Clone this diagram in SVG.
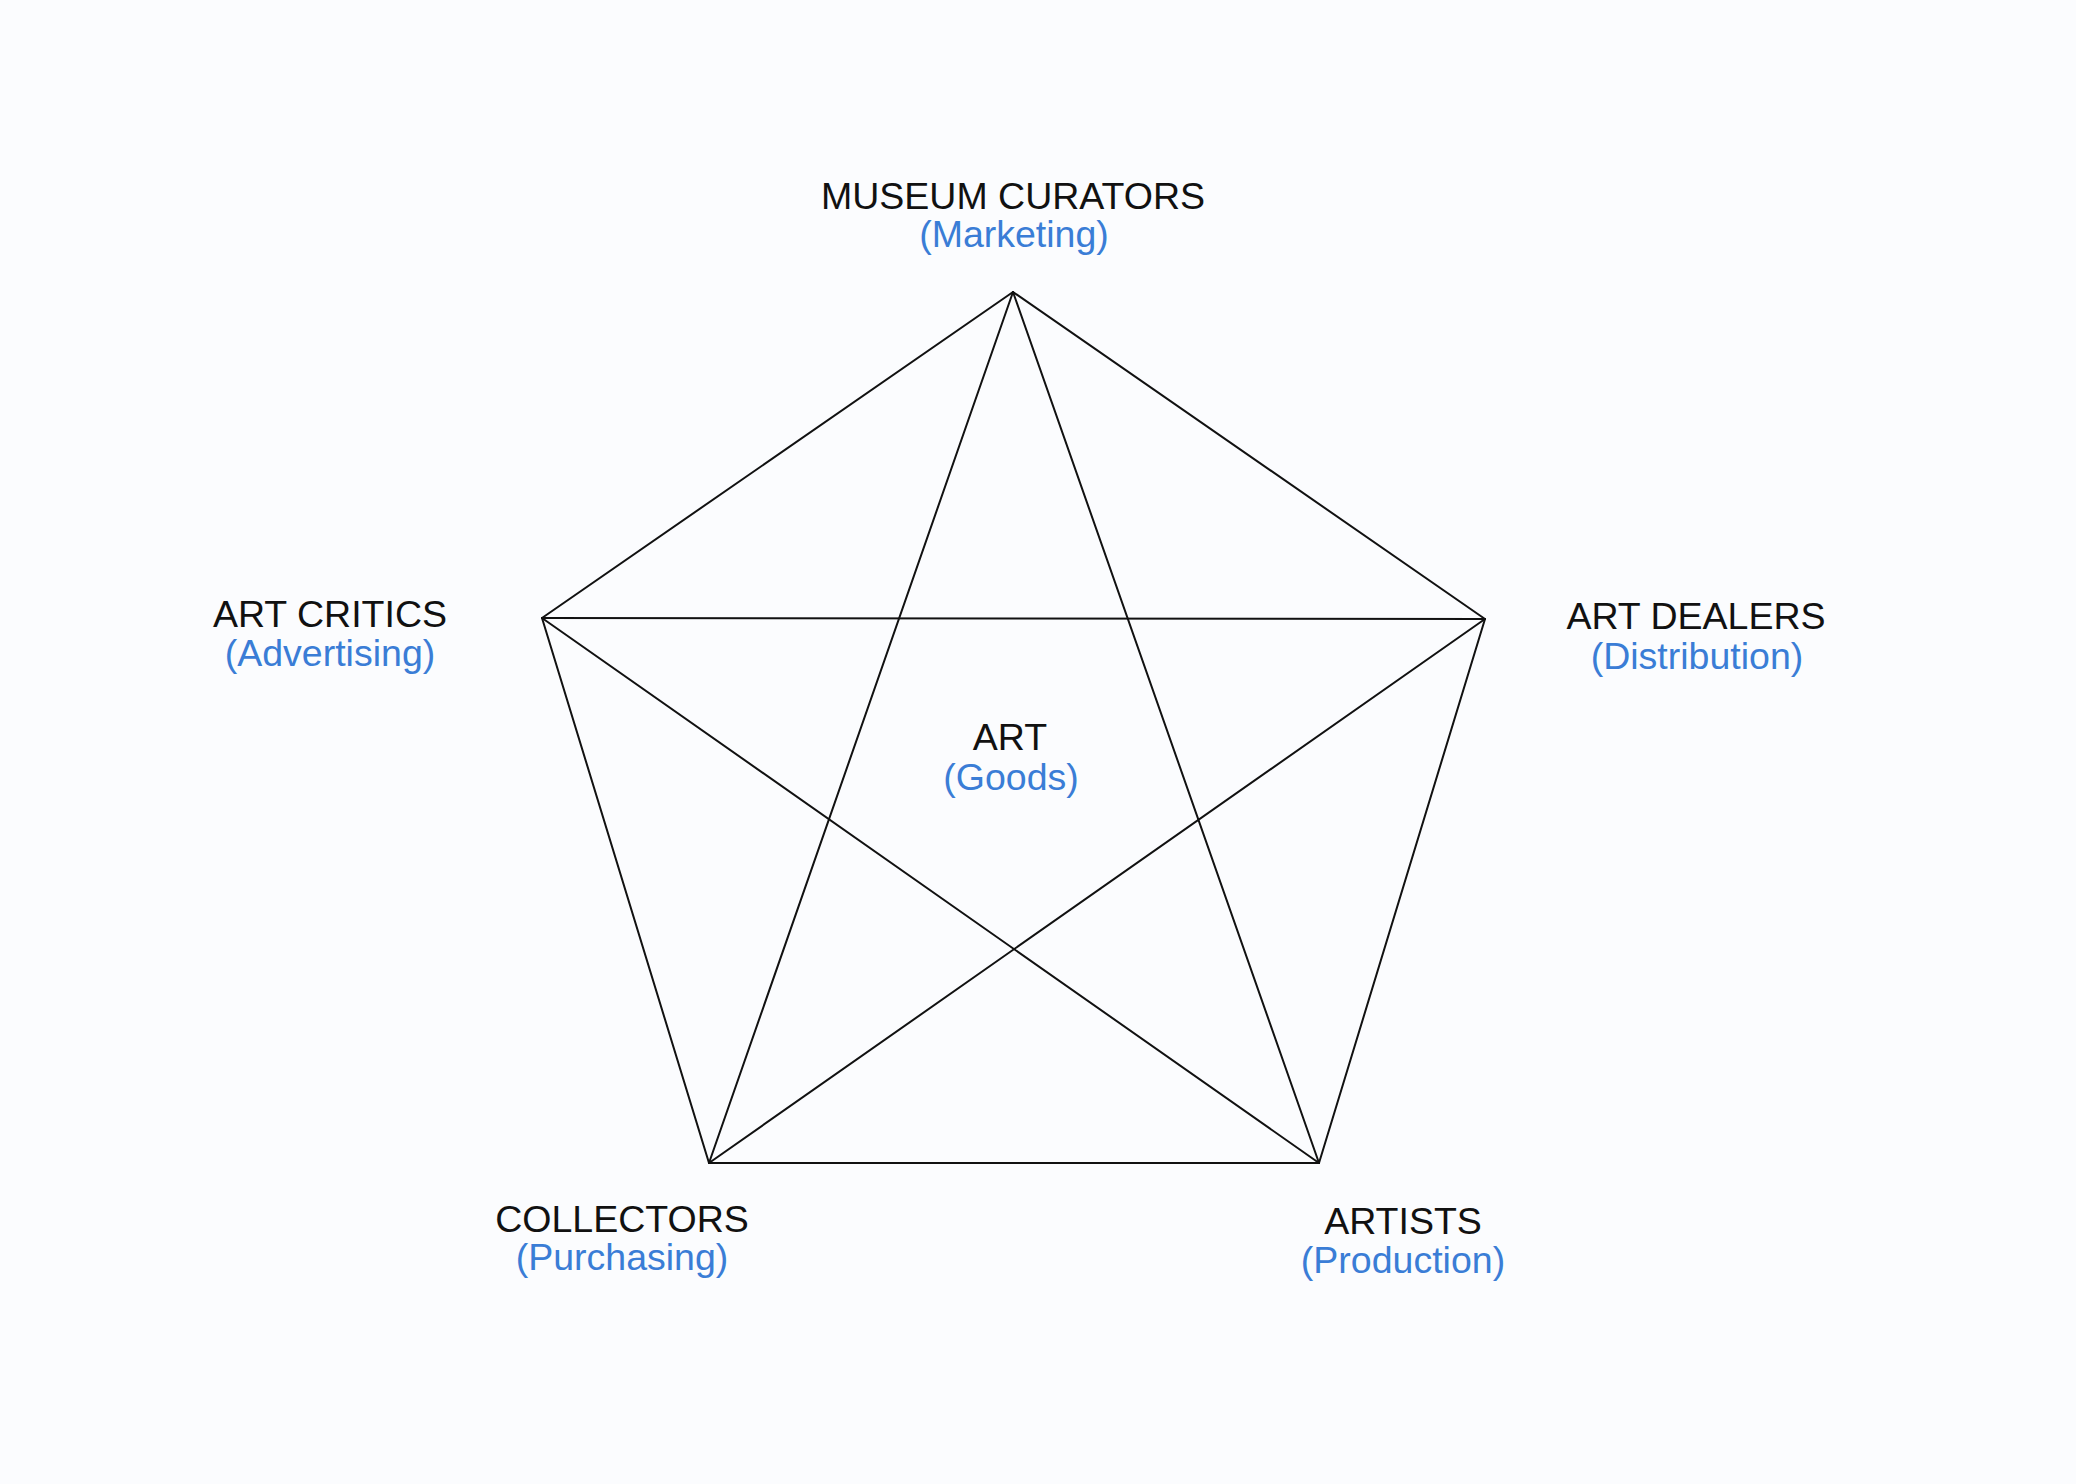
<svg xmlns="http://www.w3.org/2000/svg" width="2076" height="1484" viewBox="0 0 2076 1484">
<style>
.t{font-family:"Liberation Sans",Arial,Helvetica,sans-serif;font-size:37.5px;text-anchor:middle}
.k{fill:#111111}
.b{fill:#3a7dd6}
.e{stroke:#111111;stroke-width:2;fill:none;stroke-linecap:round}
</style>
<rect width="2076" height="1484" fill="#fbfcfe"/>
<g id="connectors">
<line class="e" x1="1013" y1="292" x2="542" y2="618"/>
<line class="e" x1="1013" y1="292" x2="1485" y2="619"/>
<line class="e" x1="542" y1="618" x2="709" y2="1163"/>
<line class="e" x1="1485" y1="619" x2="1319" y2="1163"/>
<line class="e" x1="709" y1="1163" x2="1319" y2="1163"/>
<line class="e" x1="542" y1="618" x2="1485" y2="619"/>
<line class="e" x1="1013" y1="292" x2="709" y2="1163"/>
<line class="e" x1="1013" y1="292" x2="1319" y2="1163"/>
<line class="e" x1="542" y1="618" x2="1319" y2="1163"/>
<line class="e" x1="1485" y1="619" x2="709" y2="1163"/>
</g>
<g id="curators">
<text class="t k" x="1013" y="209">MUSEUM CURATORS</text>
<text class="t b" x="1014" y="247">(Marketing)</text>
</g>
<g id="critics">
<text class="t k" x="330" y="627">ART CRITICS</text>
<text class="t b" x="330" y="666">(Advertising)</text>
</g>
<g id="dealers">
<text class="t k" x="1696" y="629">ART DEALERS</text>
<text class="t b" x="1697" y="669">(Distribution)</text>
</g>
<g id="collectors">
<text class="t k" x="622" y="1232">COLLECTORS</text>
<text class="t b" x="622" y="1270">(Purchasing)</text>
</g>
<g id="artists">
<text class="t k" x="1403" y="1234">ARTISTS</text>
<text class="t b" x="1403" y="1273">(Production)</text>
</g>
<g id="art">
<text class="t k" x="1010" y="750">ART</text>
<text class="t b" x="1011" y="790">(Goods)</text>
</g>
</svg>
